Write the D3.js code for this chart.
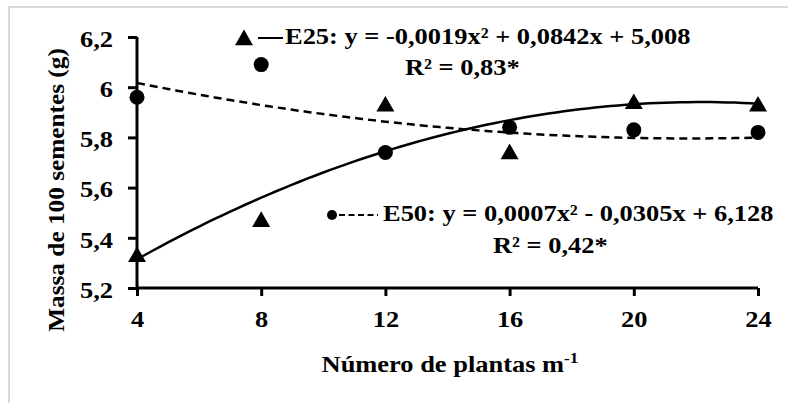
<!DOCTYPE html>
<html><head><meta charset="utf-8">
<script src="https://cdn.jsdelivr.net/npm/d3@7"></script>
<style>
html,body{margin:0;padding:0;background:#fff;}
text{font-family:"Liberation Serif","Times New Roman",serif;font-weight:bold;fill:#000;}
</style></head>
<body>
<svg id="c" width="788" height="403"></svg>
<script>
const plantas = [4, 8, 12, 16, 20, 24];
const e25 = [5.32, 5.46, 5.92, 5.73, 5.93, 5.92];
const e50 = [5.96, 6.09, 5.74, 5.84, 5.83, 5.82];
const coefE25 = [-0.0019, 0.0842, 5.008];
const coefE50 = [0.0007, -0.0305, 6.128];
const yTicks = [5.2, 5.4, 5.6, 5.8, 6, 6.2];
const xTicks = [4, 8, 12, 16, 20, 24];

const FS = 23, SX = 1.15;
const svg = d3.select("#c");
svg.append("rect").attr("x", 9).attr("y", 7).attr("width", 800).attr("height", 420)
  .attr("fill", "none").attr("stroke", "#d9d9d9").attr("stroke-width", 2);

const x = d3.scaleLinear().domain([4, 24]).range([137, 758]);
const y = d3.scaleLinear().domain([5.2, 6.2]).range([288, 37]);
const fmt = v => String(+v.toFixed(1)).replace(".", ",");

// trend curves from the displayed regression coefficients
const xs = d3.range(4, 24.001, 0.25);
const curve = c => xs.map(v => [v, c[0]*v*v + c[1]*v + c[2]]);
const line = d3.line().x(d => x(d[0])).y(d => y(d[1]));
svg.append("path").attr("d", line(curve(coefE50))).attr("fill", "none")
  .attr("stroke", "#000").attr("stroke-width", 2.5).attr("stroke-dasharray", "8,5");
svg.append("path").attr("d", line(curve(coefE25))).attr("fill", "none")
  .attr("stroke", "#000").attr("stroke-width", 2.5);

// axes
const gy = svg.append("g").attr("transform", "translate(137,0)")
  .call(d3.axisLeft(y).tickValues(yTicks).tickFormat(fmt).tickSize(9).tickPadding(14));
const gx = svg.append("g").attr("transform", "translate(0,288)")
  .call(d3.axisBottom(x).tickValues(xTicks).tickFormat(d3.format("d")).tickSize(8).tickPadding(15));
[gy, gx].forEach(g => {
  g.select(".domain").attr("stroke", "#000").attr("stroke-width", 3);
  g.selectAll(".tick line").attr("stroke", "#000").attr("stroke-width", 3);
  g.selectAll(".tick text").attr("font-size", FS).attr("font-family", null);
});
gx.select(".domain").attr("d", "M137,0H758");
gy.select(".domain").attr("d", "M0,37V288");
gy.selectAll(".tick text").attr("x", null).attr("dy", "0.4em")
  .attr("transform", `translate(-24,0) scale(${SX},1)`);
gx.selectAll(".tick text").attr("transform", `scale(${SX},1)`);

// markers
const tri = d3.symbol().type(d3.symbolTriangle).size(140);
svg.append("g").selectAll("path").data(plantas).join("path")
  .attr("d", tri).attr("transform", (d, i) => `translate(${x(d)},${y(e25[i]) - 1})`).attr("fill", "#000");
svg.append("g").selectAll("circle").data(plantas).join("circle")
  .attr("cx", d => x(d)).attr("cy", (d, i) => y(e50[i])).attr("r", 7.5).attr("fill", "#000");

function label(px, py, str, anchor) {
  return svg.append("g").attr("transform", `translate(${px},${py}) scale(${SX},1)`)
    .append("text").attr("font-size", FS).attr("text-anchor", anchor || "start").text(str);
}

// legends
svg.append("path").attr("d", tri).attr("transform", "translate(244,40)").attr("fill", "#000");
svg.append("line").attr("x1", 258).attr("x2", 283).attr("y1", 38).attr("y2", 38).attr("stroke", "#000").attr("stroke-width", 2);
label(285, 44, "E25: y = -0,0019x² + 0,0842x + 5,008");
label(405, 75, "R² = 0,83*");

svg.append("circle").attr("cx", 332).attr("cy", 215).attr("r", 5).attr("fill", "#000");
svg.append("line").attr("x1", 339).attr("x2", 378).attr("y1", 215).attr("y2", 215).attr("stroke", "#000").attr("stroke-width", 2).attr("stroke-dasharray", "6,3.5");
label(383, 221, "E50: y = 0,0007x² - 0,0305x + 6,128");
label(493, 253, "R² = 0,42*");

// axis titles
svg.append("g").attr("transform", "translate(64,190) rotate(-90) scale(1.1,1)")
  .append("text").attr("text-anchor", "middle").attr("font-size", FS).text("Massa de 100 sementes (g)");
const xt = label(450, 372, "", "middle");
xt.append("tspan").text("Número de plantas m");
xt.append("tspan").attr("font-size", 15).attr("dy", -9).text("-1");
</script>
</body></html>
